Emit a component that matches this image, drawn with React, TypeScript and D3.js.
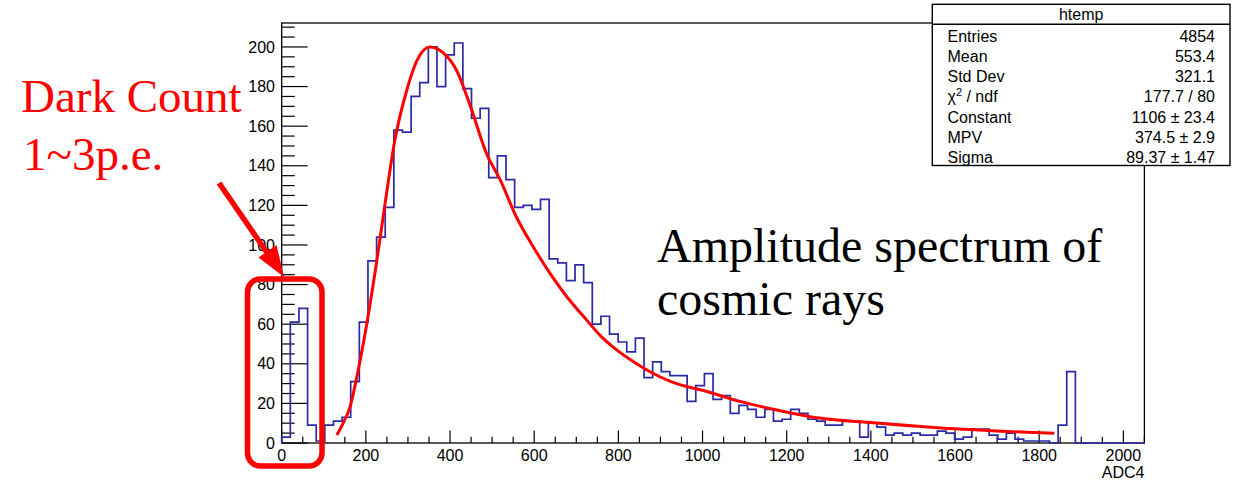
import React from 'react';
import * as d3 from 'd3';

// Histogram: 100 bins over ADC4 range [0, 2050]
const histLow = 0;
const histHigh = 2050;
const binCounts = [
  3, 61, 68, 9, 1, 9, 11, 13, 31, 61,
  92, 104, 119, 158, 157, 175, 182, 200, 180, 196,
  202, 179, 164, 169, 134, 145, 133, 119, 120, 118,
  123, 93, 91, 82, 90, 81, 60, 64, 55, 51,
  46, 53, 33, 41, 36, 34, 34, 21, 29, 35,
  22, 24, 15, 19, 17, 13, 17, 11, 12, 17,
  15, 12, 11, 9, 9, 11, 11, 3, 10, 8,
  4, 5, 4, 5, 4, 4, 6, 5, 2, 3,
  7, 7, 4, 2, 5, 2, 1, 1, 1, 0,
  9, 36, 0, 0, 0, 0, 0, 0, 0, 0,
];

// Landau fit curve
const fitADC = [131, 146, 162, 182, 206, 226, 245, 269, 297, 321, 352, 384, 416, 447, 487, 519, 558, 598, 638, 677, 717, 756, 796, 836, 875, 925, 1010, 1089, 1168, 1255, 1421, 1620, 1836];
const fitValue = [4, 10, 18, 37, 65, 92, 120, 153, 178, 193, 200, 197, 188, 171, 146, 133, 114, 99, 85.5, 74, 64, 54.5, 47, 41, 36, 31, 26, 21, 17, 13.3, 10, 6.9, 4.9];

const xMajorTicks = [0, 200, 400, 600, 800, 1000, 1200, 1400, 1600, 1800, 2000];
const yMajorTicks = [0, 20, 40, 60, 80, 100, 120, 140, 160, 180, 200];
const xTitle = 'ADC4';

const statTitle = 'htemp';
const statLabels = ['Entries', 'Mean', 'Std Dev', 'CHI2', 'Constant', 'MPV', 'Sigma'];
const statValues = ['4854', '553.4', '321.1', '177.7 / 80', '1106 \u00b1 23.4', '374.5 \u00b1 2.9', '89.37 \u00b1 1.47'];

const darkLines = ['Dark Count', '1~3p.e.'];
const ampLines = ['Amplitude spectrum of', 'cosmic rays'];

export default function App() {
  const W = 1251, H = 480;
  const fL = 281.7, fR = 1144.4, fT = 23, fB = 443;
  const yMax = 212.1;
  const x = d3.scaleLinear().domain([histLow, histHigh]).range([fL, fR]);
  const y = d3.scaleLinear().domain([0, yMax]).range([fB, fT]);
  const nb = binCounts.length;
  const bw = (histHigh - histLow) / nb;

  // histogram outline
  let hp = `M${x(histLow)},${y(0)}`;
  binCounts.forEach((c, i) => {
    hp += `V${y(c)}H${x(histLow + (i + 1) * bw)}`;
  });
  hp += `V${y(0)}`;

  const fitLine = d3
    .line<number>()
    .x((_, i) => x(fitADC[i]))
    .y((d) => y(d))
    .curve(d3.curveMonotoneX)(fitValue) as string;

  const xMinor = d3.range(0, histHigh + 1, 50).filter((v) => v % 200 !== 0);
  const yMinor = d3.range(0, yMax, 5).filter((v) => v % 20 !== 0);
  const majX = 12.6, minX = 6.3, majY = 25.9, minY = 13;

  const sans = "'Liberation Sans', Arial, sans-serif";
  const serif = "'Liberation Serif', 'Times New Roman', serif";

  // stats box
  const sbL = 932.3, sbR = 1230, sbT = 4.3, sbSep = 24.3, sbB = 165.5;

  return (
    <svg width={W} height={H} style={{ position: 'absolute', left: 0, top: 0, background: '#fff' }} fontFamily={sans}>
      <rect x={0} y={0} width={W} height={H} fill="#fff" />
      {/* frame */}
      <rect x={fL} y={fT} width={fR - fL} height={fB - fT} fill="none" stroke="#000" strokeWidth={1.3} />
      {/* x ticks */}
      {xMajorTicks.map((t) => (
        <line key={'xm' + t} x1={x(t)} x2={x(t)} y1={fB} y2={fB - majX} stroke="#000" strokeWidth={1.2} />
      ))}
      {xMinor.map((t) => (
        <line key={'xn' + t} x1={x(t)} x2={x(t)} y1={fB} y2={fB - minX} stroke="#000" strokeWidth={1.2} />
      ))}
      {xMajorTicks.map((t) => (
        <text key={'xl' + t} x={x(t)} y={461} fontSize={16} textAnchor="middle" fill="#000">{t}</text>
      ))}
      <text x={fR} y={478} fontSize={16} textAnchor="end" fill="#000">{xTitle}</text>
      {/* y ticks */}
      {yMajorTicks.map((t) => (
        <line key={'ym' + t} x1={fL} x2={fL + majY} y1={y(t)} y2={y(t)} stroke="#000" strokeWidth={1.2} />
      ))}
      {yMinor.map((t) => (
        <line key={'yn' + t} x1={fL} x2={fL + minY} y1={y(t)} y2={y(t)} stroke="#000" strokeWidth={1.2} />
      ))}
      {yMajorTicks.map((t) => (
        <text key={'yl' + t} x={275} y={y(t) + 5.6} fontSize={16} textAnchor="end" fill="#000">{t}</text>
      ))}
      {/* histogram */}
      <path d={hp} fill="none" stroke="#2a2aa6" strokeWidth={1.7} />
      {/* fit */}
      <path d={fitLine} fill="none" stroke="#ff0000" strokeWidth={3} strokeLinecap="butt" />
      {/* stats box */}
      <rect x={sbL} y={sbT} width={sbR - sbL} height={sbB - sbT} fill="#fff" stroke="#000" strokeWidth={1.4} />
      <line x1={sbL} x2={sbR} y1={sbSep} y2={sbSep} stroke="#000" strokeWidth={1.4} />
      <text x={(sbL + sbR) / 2} y={19.5} fontSize={16} textAnchor="middle" fill="#000">{statTitle}</text>
      {statLabels.map((l, i) => (
        <text key={'sl' + i} x={947.5} y={41.7 + i * 20.2} fontSize={16} fill="#000">
          {l === 'CHI2' ? (
            <>
              <tspan>χ</tspan>
              <tspan fontSize={11} dy={-6}>2</tspan>
              <tspan dy={6}> / ndf</tspan>
            </>
          ) : (
            l
          )}
        </text>
      ))}
      {statValues.map((v, i) => (
        <text key={'sv' + i} x={1215} y={41.7 + i * 20.2} fontSize={16} textAnchor="end" fill="#000">{v}</text>
      ))}
      {/* annotations */}
      <text fontFamily={serif} fontSize={47} fill="#ff0000">
        <tspan x={21} y={111.7}>{darkLines[0]}</tspan>
        <tspan x={23} y={170}>{darkLines[1]}</tspan>
      </text>
      <text fontFamily={serif} fontSize={48} fill="#000">
        <tspan x={657} y={261.5}>{ampLines[0]}</tspan>
        <tspan x={657} y={315}>{ampLines[1]}</tspan>
      </text>
      {/* red box */}
      <rect x={247.5} y={279} width={74.5} height={187} rx={13} ry={13} fill="none" stroke="#ff0000" strokeWidth={5.5} />
      {/* arrow */}
      <line x1={219} y1={183} x2={269} y2={255.5} stroke="#ff0000" strokeWidth={5.5} />
      <polygon points="284,277 258.5,257.5 276.5,245" fill="#ff0000" />
    </svg>
  );
}
